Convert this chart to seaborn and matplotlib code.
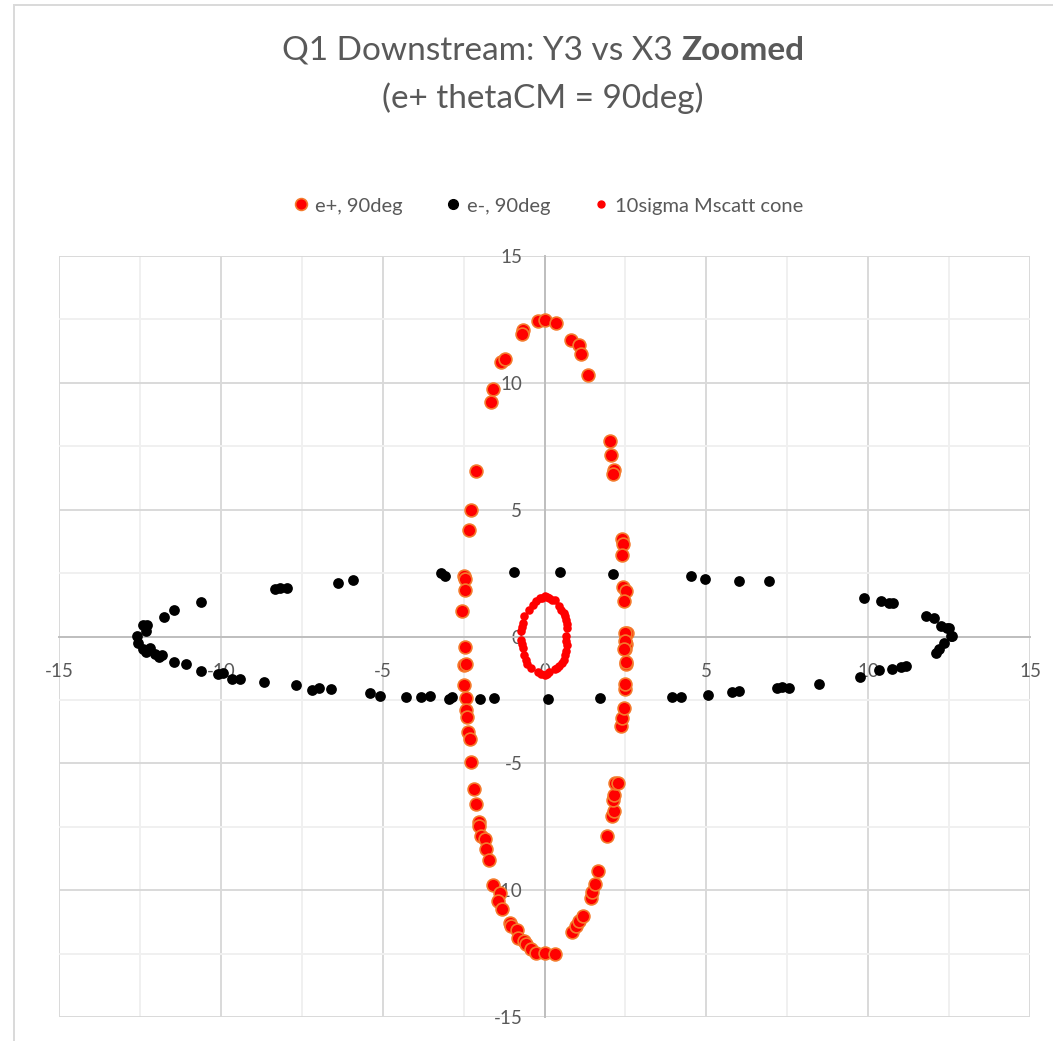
import numpy as np
import pandas as pd
import matplotlib
matplotlib.use("Agg")
import matplotlib.pyplot as plt
import seaborn as sns
from matplotlib.lines import Line2D
from matplotlib.patches import Rectangle

# e+ at thetaCM = 90deg
ep_x = [-0.21, 0.03, 0.36, -0.67, -0.69, -1.34, -1.23, -1.60, -1.65, -2.11, -2.26, -2.34,
        -2.50, -2.47, -2.47, -2.54, -2.47, -2.50, -2.44, -2.50, -2.44, -2.44, -2.40, -2.37,
        -2.29, -2.26, -2.19, -2.11, -2.01, -2.03, -1.95, -1.85, -1.82, -1.73, -1.60, -1.39,
        -1.44, -1.32, -1.06, -1.03, -0.85, -0.82, -0.62, -0.57, -0.41, -0.26, 0.00, 0.31,
        0.84, 0.98, 1.08, 1.20, 1.44, 1.47, 1.57, 1.65, 1.93, 2.09, 2.16, 2.13, 2.16, 2.19,
        2.26, 2.37, 2.40, 2.47, 2.50, 2.50, 2.52, 2.52, 2.50, 2.52, 2.54, 0.82, 1.08, 1.13,
        1.34, 2.01, 2.04, 2.16, 2.11, 2.40, 2.42, 2.40, 2.44, 2.52, 2.47, 2.50, 2.50, 2.47]
ep_y = [12.43, 12.47, 12.37, 12.07, 11.94, 10.81, 10.92, 9.76, 9.25, 6.52, 5.00, 4.19,
        2.38, 2.25, 1.85, 1.02, -0.41, -1.14, -1.10, -1.92, -2.44, -2.88, -3.18, -3.77,
        -4.03, -4.95, -6.03, -6.62, -7.30, -7.48, -7.87, -7.97, -8.37, -8.82, -9.80, -10.13,
        -10.43, -10.76, -11.28, -11.42, -11.57, -11.88, -12.01, -12.14, -12.31, -12.47, -12.47, -12.51,
        -11.65, -11.42, -11.22, -11.02, -10.30, -10.08, -9.75, -9.25, -7.87, -7.08, -6.88, -6.43, -6.23, -5.77,
        -5.79, -3.51, -3.20, -2.81, -2.06, -1.89, -1.10, -1.01, -0.48, -0.28, 0.12, 11.68, 11.51, 11.12,
        10.30, 7.69, 7.17, 6.58, 6.41, 3.85, 3.63, 3.23, 1.94, 1.81, 1.39, 0.15, -0.18, -0.51]

# e- at 90deg
em_x = [-0.93, 0.49, -3.19, -3.06, -6.38, -5.92, -8.33, -8.16, -7.97, -10.62, -11.44, -11.75,
        -12.29, -12.42, -12.31, -12.60, -12.57, -12.40, -12.31, -12.19, -12.04, -11.90, -11.83,
        -11.44, -11.09, -10.62, -10.08, -9.93, -9.67, -9.41, -8.66, -7.69, -7.17, -6.97, -6.61,
        -5.40, -5.09, -4.27, -3.81, -3.53, -2.95, -2.85, -1.98, -1.56, 0.10, 1.73, 3.94, 4.22,
        5.06, 5.79, 6.00, 7.17, 7.34, 7.56, 8.47, 9.74, 10.34, 10.75, 11.01, 11.16, 12.09,
        12.35, 12.58, 12.45, 9.88, 10.39, 10.65, 10.77, 11.78, 12.04, 12.24, 12.50, 12.55,
        12.19, 4.53, 4.97, 6.00, 6.94, 2.11]
em_y = [2.53, 2.53, 2.51, 2.40, 2.09, 2.22, 1.88, 1.92, 1.92, 1.37, 1.06, 0.78,
        0.45, 0.45, 0.21, 0.01, -0.25, -0.51, -0.62, -0.45, -0.68, -0.80, -0.71,
        -1.00, -1.10, -1.37, -1.47, -1.43, -1.69, -1.67, -1.81, -1.92, -2.09, -2.02, -2.06,
        -2.22, -2.33, -2.38, -2.38, -2.33, -2.48, -2.38, -2.46, -2.43, -2.46, -2.42, -2.38, -2.38,
        -2.29, -2.19, -2.13, -2.02, -1.98, -2.02, -1.86, -1.59, -1.33, -1.30, -1.19, -1.17, -0.64,
        -0.25, 0.01, 0.34, 1.53, 1.39, 1.33, 1.33, 0.80, 0.74, 0.41, 0.34, 0.01,
        -0.51, 2.38, 2.27, 2.18, 2.18, 2.48]

# 10 sigma multiple scattering cone
cone_x = [-0.15, 0.00, 0.15, 0.31, 0.46, 0.60, 0.67, 0.70, 0.67, 0.70, 0.67, 0.60, 0.46,
          0.31, 0.15, 0.00, -0.21, -0.41, -0.53, -0.62, -0.67, -0.72, -0.72, -0.67, -0.62,
          -0.49, -0.36, -0.26, 0.51, 0.64, 0.68, 0.65, 0.64, 0.53, 0.39, 0.23, 0.08, -0.08,
          -0.70, -0.70, -0.57, -0.10, 0.08]
cone_y = [1.50, 1.59, 1.53, 1.42, 1.20, 0.93, 0.67, 0.34, 0.01, -0.32, -0.58, -0.91, -1.17,
          -1.30, -1.39, -1.50, -1.39, -1.23, -1.10, -0.71, -0.45, -0.12, 0.21, 0.54, 0.80,
          1.06, 1.26, 1.39, 1.06, 0.80, 0.50, -0.16, -0.74, -1.04, -1.23, 1.42, 1.55, 1.53,
          -0.29, 0.37, -0.91, -1.47, -1.47]

labels = ["e+, 90deg", "e-, 90deg", "10sigma Mscatt cone"]
title_main = "Q1 Downstream: Y3 vs X3 "
title_bold = "Zoomed"
subtitle = "(e+ thetaCM = 90deg)"

grey = "#595959"
sns.set_theme(style="white")
plt.rcParams["font.family"] = ["Lato", "DejaVu Sans"]

fig = plt.figure(figsize=(10.53, 10.41), dpi=100)
ax = fig.add_axes([59 / 1053, 1 - 1017 / 1041, (1030 - 59) / 1053, (1017 - 256) / 1041])

sns.scatterplot(x=ep_x, y=ep_y, ax=ax, color="#ff0000", edgecolor="#f47a2c",
                linewidth=1.2, s=85, zorder=3)
sns.scatterplot(x=em_x, y=em_y, ax=ax, color="black", edgecolor="black",
                linewidth=0, s=60, zorder=4)
sns.scatterplot(x=cone_x, y=cone_y, ax=ax, color="#ff0000", edgecolor="#ff0000",
                linewidth=0, s=38, zorder=5)

ax.set_xlim(-15, 15)
ax.set_ylim(-15, 15)
ax.set_xticks(np.arange(-15, 16, 5))
ax.set_yticks(np.arange(-15, 16, 5))
ax.set_xticks(np.arange(-12.5, 15, 5), minor=True)
ax.set_yticks(np.arange(-12.5, 15, 5), minor=True)
ax.grid(which="major", color="#d9d9d9", linewidth=1.4, zorder=0)
ax.grid(which="minor", color="#f0f0f0", linewidth=1.4, zorder=0)
ax.set_axisbelow(True)

for side in ["top", "right"]:
    ax.spines[side].set_visible(False)
for side in ["left", "bottom"]:
    ax.spines[side].set_position(("data", 0))
    ax.spines[side].set_color("#bfbfbf")
    ax.spines[side].set_linewidth(1.4)
    ax.spines[side].set_zorder(1)

ax.tick_params(axis="x", which="both", length=0, pad=19, labelsize=13.5, labelcolor=grey)
ax.tick_params(axis="y", which="both", length=0, pad=16, labelsize=13.5, labelcolor=grey)
ax.set_xticklabels([str(v) for v in range(-15, 16, 5)])
ax.set_yticklabels([str(v) for v in range(-15, 16, 5)])
for lab in ax.get_xticklabels() + ax.get_yticklabels():
    lab.set_zorder(2)

# chart area border
fig.patches.append(Rectangle((14 / 1053, -0.1), 1.2, 1 - 5 / 1041 + 0.1, transform=fig.transFigure,
                             fill=False, edgecolor="#d9d9d9", linewidth=1.4))

# title with bold last word
fs = 24
fig.canvas.draw()
r = fig.canvas.get_renderer()
t1 = fig.text(0, 1 - 50 / 1041, title_main, fontsize=fs, color=grey, va="center", ha="left")
t2 = fig.text(0, 1 - 50 / 1041, title_bold, fontsize=fs, color=grey, va="center", ha="left",
              fontweight="bold")
w1 = t1.get_window_extent(r).width / fig.bbox.width
w2 = t2.get_window_extent(r).width / fig.bbox.width
x0 = 543 / 1053 - (w1 + w2) / 2
t1.set_x(x0)
t2.set_x(x0 + w1)
fig.text(543 / 1053, 1 - 98 / 1041, subtitle, fontsize=fs, color=grey, va="center", ha="center")

handles = [
    Line2D([], [], marker="o", linestyle="", markerfacecolor="#ff0000", markeredgecolor="#f47a2c",
           markeredgewidth=1.2, markersize=8.5),
    Line2D([], [], marker="o", linestyle="", color="black", markersize=7),
    Line2D([], [], marker="o", linestyle="", color="#ff0000", markersize=5),
]
fig.legend(handles, labels, loc="center", bbox_to_anchor=(547 / 1053, 1 - 206 / 1041), ncol=3,
           frameon=False, fontsize=14.5, labelcolor=grey, handletextpad=0.2, columnspacing=2.0,
           handlelength=1.0)

fig.savefig("out.png", dpi=100)
